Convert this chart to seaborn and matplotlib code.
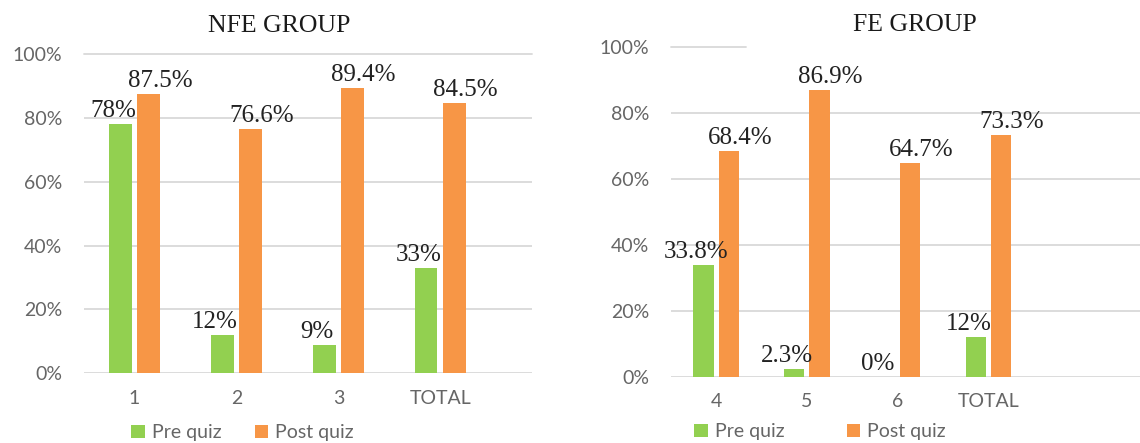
import matplotlib
matplotlib.use("Agg")
import matplotlib.pyplot as plt
from matplotlib.patches import Patch
import pandas as pd
import seaborn as sns

# ---- data -------------------------------------------------------------
nfe_categories = ["1", "2", "3", "TOTAL"]
nfe_pre = [78, 12, 9, 33]
nfe_post = [87.5, 76.6, 89.4, 84.5]

fe_categories = ["4", "5", "6", "TOTAL"]
fe_pre = [33.8, 2.3, 0, 12]
fe_post = [68.4, 86.9, 64.7, 73.3]

series_names = ["Pre quiz", "Post quiz"]
y_ticks = [0, 20, 40, 60, 80, 100]

# ---- style ------------------------------------------------------------
GREEN = "#92D050"
ORANGE = "#F79646"
GRID = "#D9D9D9"
TICK_COLOR = "#666666"
LABEL_COLOR = "#222222"
SANS = ["Lato", "DejaVu Sans"]
SERIF = ["Liberation Serif", "DejaVu Serif"]

sns.set_style("white")
plt.rcParams["font.family"] = SANS

palette = {series_names[0]: GREEN, series_names[1]: ORANGE}


def long_frame(categories, pre, post):
    return pd.DataFrame({
        "category": categories * 2,
        "value": list(pre) + list(post),
        "quiz": [series_names[0]] * len(categories) + [series_names[1]] * len(categories),
    })


def draw_panel(ax, categories, pre, post, xlim, top_grid_frac=1.0):
    df = long_frame(categories, pre, post)
    sns.barplot(data=df, x="category", y="value", hue="quiz",
                hue_order=series_names, order=categories, palette=palette,
                width=0.56, gap=0.2, saturation=1, legend=False, ax=ax,
                edgecolor="none", linewidth=0, zorder=3)
    ax.set_ylim(0, 100)
    ax.set_xlim(*xlim)
    ax.set_yticks(y_ticks)
    ax.set_yticklabels([f"{t}%" for t in y_ticks])
    ax.set_xlabel("")
    ax.set_ylabel("")
    ax.grid(False)
    for t in y_ticks:
        if t == 100:
            ax.axhline(t, xmin=0, xmax=top_grid_frac, color=GRID, lw=1.3, zorder=1, clip_on=False)
        else:
            ax.axhline(t, color=GRID, lw=1.3, zorder=1)
    for s in ax.spines.values():
        s.set_visible(False)
    ax.tick_params(axis="y", length=0, pad=15.5, labelsize=14, labelcolor=TICK_COLOR)
    ax.tick_params(axis="x", length=0, pad=12, labelsize=14, labelcolor=TICK_COLOR)

    # value labels above each bar
    for container, dx in zip(ax.containers, (-7, 11)):
        for bar in container:
            v = bar.get_height()
            ax.annotate(f"{v:g}%",
                        xy=(bar.get_x() + bar.get_width() / 2, v),
                        xytext=(dx, 7), textcoords="offset pixels",
                        ha="center", va="baseline",
                        fontsize=18, family=SERIF, color=LABEL_COLOR,
                        zorder=4, annotation_clip=False)


fig = plt.figure(figsize=(11.4, 4.43), dpi=100)
ax_left = fig.add_axes([0.0737, 0.1573, 0.3930, 0.7208])
ax_right = fig.add_axes([0.5883, 0.1497, 0.4117, 0.7453])

draw_panel(ax_left, nfe_categories, nfe_pre, nfe_post, xlim=(-0.496, 3.90))
draw_panel(ax_right, fe_categories, fe_pre, fe_post, xlim=(-0.50, 4.67), top_grid_frac=0.16)

fig.text(0.2447, 0.941, "NFE GROUP", ha="center", va="center",
         fontsize=18.5, family=SERIF, color="#1A1A1A")
fig.text(0.8026, 0.944, "FE GROUP", ha="center", va="center",
         fontsize=18.5, family=SERIF, color="#1A1A1A")

handles = [Patch(facecolor=GREEN, edgecolor="none", label=series_names[0]),
           Patch(facecolor=ORANGE, edgecolor="none", label=series_names[1])]
common = dict(ncol=2, frameon=False, loc="center", handlelength=0.7,
              handleheight=0.7, handletextpad=0.35, borderaxespad=0,
              borderpad=0, prop={"family": SANS, "size": 14}, labelcolor=TICK_COLOR)
fig.legend(handles=handles, bbox_to_anchor=(0.2127, 0.0226), columnspacing=1.7, **common)
fig.legend(handles=handles, bbox_to_anchor=(0.7193, 0.0255), columnspacing=3.2, **common)

fig.savefig("out.png", dpi=100, facecolor="white")
